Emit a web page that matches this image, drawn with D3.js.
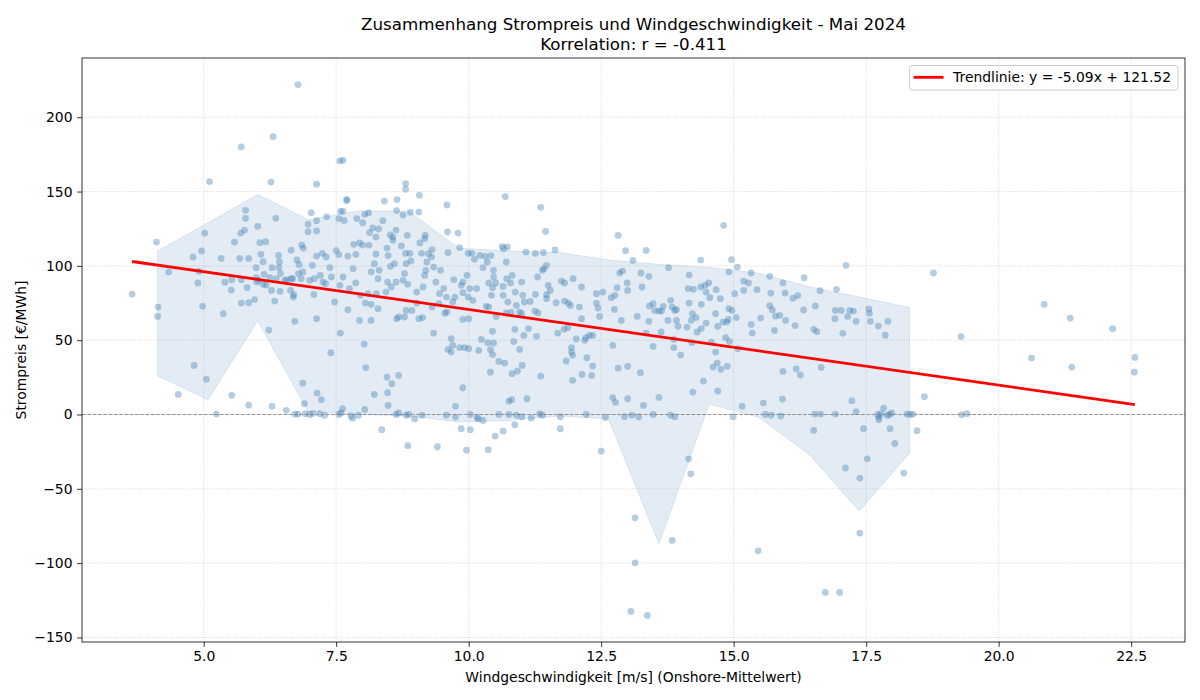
<!DOCTYPE html>
<html>
<head>
<meta charset="utf-8">
<script src="https://cdn.jsdelivr.net/npm/d3@7"></script>
<style>
  body { margin: 0; background: #fff; }
  svg { display: block; font-family: 'DejaVu Sans', sans-serif; }
</style>
</head>
<body>
<svg id="chart" width="1200" height="700"></svg>
<script>
// hourly samples, May 2024: [onshore wind m/s, price EUR/MWh]
const hourly = [
  [6.78,222],[5.71,180],[6.31,187],[5.11,156.7],[6.27,156.4],[7.13,155],[5.79,137.4],[5.79,132],[6.36,132],[7.03,135.8],
  [6.97,128],[7.13,130.4],[7.32,133],[6.02,126.6],[5.77,124],[5.70,122],[5.02,122],[6.97,123],[7.13,123.5],[5.58,116],
  [6.06,115.6],[6.17,116.3],[6.85,114],[6.88,112],[6.65,110.5],[6.41,107],[6.08,107.8],[7.13,106.6],[7.24,108.4],[4.80,106],
  [4.96,110],[5.33,105],[5.68,105],[5.85,105],[6.76,104],[7.31,106],[4.11,116],
  [7.57,170.6],[7.63,171],[8.81,155.3],[8.81,151.5],[7.70,144.8],[7.70,143.8],[8.41,143.6],[8.65,144.6],[9.07,147.5],[9.59,141],
  [10.69,146.6],[11.36,139.4],[11.45,123.2],[7.58,136.7],[7.63,136.7],[7.55,131.8],[7.65,130.6],[7.89,131.8],[8.04,134.7],[8.11,135.6],
  [8.00,129],[8.38,130.4],[8.64,137.2],[8.76,134.2],[8.90,136],[9.06,136.2],[8.19,125.5],[8.30,124.8],[8.13,122.4],[8.25,119.4],
  [8.52,120.8],[8.57,119.4],[8.63,124.1],[8.84,120.5],[9.18,120.5],[9.17,118.3],[9.60,122.8],[9.80,122.1],[7.83,114.5],[7.94,115.4],
  [8.00,114],[8.12,114],[8.57,117.2],[8.73,113.4],[9.08,115.4],[9.31,111],[9.83,112.3],[7.50,110.3],[7.55,107.6],[7.72,106.6],
  [7.87,107.8],[8.25,108],[8.46,112],[8.48,106.9],[8.81,108.4],[8.89,108.4],[9.11,108.4],[9.24,108.2],[9.30,106],[9.61,108.9],
  [9.99,108.4],[10.06,108.4],[10.21,107],[10.31,106.4],[10.42,106.9],[10.63,113],[10.66,111.6],[10.73,112.7],[11.08,109.3],[11.26,108.4],
  [11.41,109],[11.63,110.7],[10.11,104.4],
  [14.81,127.3],[12.82,120.5],[12.96,110.2],[13.35,110.4],[13.10,103.7],[14.38,103.9],[14.96,104.2],
  [17.12,100.4],[18.77,95.2],[16.33,92],[16.12,78.3],[16.21,80],[16.63,83.3],[16.94,84.2],[16.32,70.3],[16.54,73],[16.92,70],
  [17.03,70],[17.19,70],[17.26,69.6],[17.55,71],[17.56,68.2],[16.91,64.5],[17.15,66],[17.31,62.7],[17.58,62.7],[17.91,62.7],
  [16.16,59.8],[16.51,57.3],[16.57,55.7],[17.06,54.6],[17.73,59.5],[17.86,53.4],[19.29,52.4],[20.86,74.1],[21.35,64.9],[22.15,57.7],
  [20.62,38],[21.38,31.9],[22.57,38.4],[22.56,28.5],[16.18,30.6],[16.26,26.5],[16.65,31.7],[18.60,12],[17.23,9.3],[17.31,2],
  [16.53,0.3],[16.64,0.3],[16.92,0.3],[17.72,0],[17.83,4.3],[17.78,0.5],[17.94,0],[17.98,1],[17.74,-1.7],[17.74,-3.5],
  [17.90,-0.6],[18.27,0.3],[18.33,0],[18.38,0.3],[19.30,-0.1],[19.40,0.5],[16.51,-10.7],[17.45,-9.6],[17.95,-9.6],[18.46,-10.9],
  [3.65,81],[4.14,72.3],[4.13,66],[4.34,95.8],[4.89,88.5],[4.91,96.3],[4.98,72.8],[4.82,33],[5.05,23.8],[4.52,13.5],
  [5.24,0.3],[5.53,12.9],[5.85,6.3],[6.29,5.5],[6.56,2.8],[6.72,0.3],[6.78,0.3],[5.37,67.8],[5.40,89],[5.53,90.7],
  [5.52,83.7],[5.71,90.7],[5.82,85.3],[5.71,75],[5.85,75.2],[5.96,77.3],[5.99,98.8],[6.00,89.1],[6.14,94.3],[6.25,92],
  [6.28,83.5],[6.34,76.3],[6.44,82.9],[6.64,83.5],[6.23,56.8],[6.72,62.7],[6.69,79],[6.70,80.6],[6.29,98.8],[6.42,98.8],
  [6.45,94.8],[6.65,91.4],[6.68,91.4],[6.43,102.6],[6.12,102.8],[5.99,92],[6.04,90.3],[6.12,87.6],[6.18,87.1],[6.37,91.4],
  [6.53,90.3],[6.57,90.7],[6.80,100.8],[6.79,94.8],
  [6.87,95.9],[6.84,91.4],[7.05,100.4],[7.00,90.3],[7.09,91.4],[7.08,80.8],[7.20,93.6],[7.25,89.1],[7.30,88],[7.38,98.8],
  [7.41,92.5],[7.47,75.7],[7.57,86.9],[7.63,92.5],[7.72,70.5],[7.82,98.1],[7.75,84.7],[7.87,88.5],[7.94,63.3],[8.16,63.3],
  [7.96,80.2],[8.05,75],[8.16,74.1],[8.22,101.5],[8.16,95.9],[8.29,71.2],[8.31,97],[8.29,91.4],[8.10,81.3],[8.26,81.3],
  [8.44,82.4],[8.47,89.1],[8.54,85.8],[8.52,99.7],[8.60,101.5],[8.63,89.1],[8.76,90.3],[8.79,94.8],[8.82,101.5],[8.85,87.6],
  [8.91,103.3],[8.64,64.5],[8.68,65.6],[8.79,65.6],[8.82,70],[8.93,70],[9.02,75],[9.06,64.5],[9.13,65.2],[9.02,82.4],
  [9.14,85.8],[9.17,93.6],[9.21,102.6],[9.19,97],[9.34,99.2],[9.31,72.3],[9.38,89.1],[9.45,81.3],[9.44,74.6],[9.47,97],
  [9.53,84.7],[9.58,79],[9.59,68.9],[9.55,68.2],[7.13,64.5],[7.58,54.8],[7.40,41.6],[8.03,47.4],[8.06,31.5],[8.46,25.2],
  [8.55,20.7],[8.68,26.3],[8.47,14.7],[8.22,13.5],[8.48,6.1],[7.14,14.4],[7.22,10],[6.87,21.1],[6.90,7.3],[7.62,3.9],
  [8.04,3.4],[7.00,0],[7.19,0.5],[7.28,-0.5],[7.55,0],[7.59,1],[7.78,-1],[7.81,-2.5],[7.92,-0.5],[8.63,0],
  [8.68,1],[8.82,-0.5],[8.87,0],[8.98,-3],[9.12,-0.5],[9.58,-0.5],[8.36,-10.2],[9.34,54.8],[9.61,43.8],[6.92,0.5],
  [7.06,0.8],
  [10.35,102.6],[10.71,102.6],[10.27,98.8],[9.97,93.6],[9.72,90.7],[9.89,89.1],[9.86,86.9],[10.02,84.7],[10.15,84.7],[9.89,82],
  [9.74,79],[9.99,79],[10.08,76.8],[9.70,75.7],[9.89,64],[10.00,64.5],[10.47,97],[10.47,92.5],[10.38,88.5],[10.51,88.5],
  [10.45,85.3],[10.43,80.2],[10.65,80.2],[10.65,86.2],[10.72,91.4],[10.82,93.6],[10.79,88.5],[10.88,82.4],[11.00,89.1],[11.02,80.2],
  [10.74,75.7],[10.90,73.4],[11.05,75.7],[11.16,76.1],[11.26,80.8],[11.30,92.5],[11.39,97],[11.42,98.1],[11.47,100.4],[11.50,86.9],
  [11.54,83.5],[11.47,80.6],[11.47,77.9],[11.65,75.2],[11.75,89.8],[11.81,88.5],[11.81,76.3],[11.88,75],[11.92,73.4],[11.97,91.4],
  [12.13,85.8],[12.09,72.3],[12.41,81.3],[12.41,75],[12.44,71.6],[12.13,64.5],[10.33,72.8],[10.38,72.3],[10.52,66],[10.71,68.3],
  [10.80,68.9],[10.96,68.9],[11.00,67.8],[11.25,69.6],[11.31,68.3],[10.45,56],[10.87,57.3],[11.13,57.8],[11.04,53.2],[11.28,52.6],
  [11.68,54.8],[11.80,57.3],[11.87,58.4],[12.03,50.8],[12.19,49.9],[12.21,51.7],[12.28,53.2],[12.34,53.2],[9.67,51],[9.70,46.5],
  [9.67,42],[9.83,45],[9.92,45],[10.00,44.3],[10.19,43.1],[10.24,50.5],[10.36,48.3],[10.41,43.6],[10.45,40.3],[10.47,48.1],
  [10.57,35.7],[10.68,34.6],[10.85,49.2],[10.96,43.8],[11.01,33],[10.82,27.5],[10.92,29.2],[10.41,28.5],[11.36,25.8],[11.94,45],
  [11.94,42],[11.96,39.8],[11.84,36],[11.96,23],[12.14,27],[12.23,38.2],[12.32,26.3],[12.34,32.6],[9.89,18],[9.75,5.5],
  [10.76,9],[10.81,10],[11.10,10.6],[10.03,0],[10.16,-2],[10.18,-3],[10.27,-4],[10.57,0],[10.76,0],[10.90,-0.5],
  [11.00,-1.5],[11.34,0.5],[11.39,-0.5],[11.73,-1.5],[12.22,0],[9.75,-1.7],[9.86,-9.6],[10.03,-10.2],[10.50,-14.5],[10.65,-11.2],
  [10.87,-6.9],[11.18,-2.4],[11.73,-9.6],
  [12.85,95.2],[12.90,96.5],[13.25,95.2],[13.40,93],[13.77,98.8],[14.16,93.8],[15.07,99.2],[14.91,95.9],[12.53,82.4],[12.80,85.3],
  [12.99,88.5],[13.00,83.5],[13.27,85.8],[12.69,78.6],[12.76,80.2],[12.75,70.7],[12.88,63.3],[12.47,66],[13.18,66],[13.40,62.7],
  [13.41,73],[13.48,74.6],[13.51,70],[13.59,69.6],[13.64,69.6],[13.67,72.8],[13.81,76.8],[13.84,72.3],[13.89,70],[13.92,70.7],
  [13.76,63.3],[13.92,63.3],[13.95,59.3],[14.14,84.7],[14.24,84.2],[14.16,75],[14.22,67.8],[14.20,63.3],[14.29,65.2],[14.38,85.8],
  [14.46,86.9],[14.48,82.4],[14.53,88.5],[14.55,78.6],[14.39,74.1],[14.48,61.5],[14.31,55.5],[14.39,57.8],[14.12,58.8],[14.67,84],
  [14.75,77.9],[14.66,67.8],[14.70,59.3],[14.80,62.2],[14.87,62.2],[14.91,71.2],[14.97,70],[14.90,64],[15.02,81.3],[15.05,65.2],
  [14.85,51.7],[14.92,49.2],[15.08,44.3],[15.19,89.8],[15.19,83.5],[15.28,88.5],[15.33,95.2],[15.44,84],[15.33,60.6],[15.35,54.8],
  [15.51,64.9],[15.68,93],[15.70,81.7],[15.68,73.2],[15.73,70.5],[15.79,66.2],[15.87,66.7],[15.77,56.6],[15.93,88.5],[15.97,81.7],
  [15.98,63.3],[15.93,29],[12.72,46.5],[12.82,31.2],[13.00,32.4],[13.24,28.1],[13.48,45.8],[13.63,55.5],[13.87,50.5],[13.87,45],
  [14.00,40],[13.35,54.8],[14.21,48.3],[14.61,31.9],[14.69,34.6],[14.76,30.4],[14.88,32.4],[14.58,48.7],[14.66,42],[14.43,22.5],
  [14.23,15.1],[14.70,15.8],[12.72,11.3],[12.77,8.1],[13.00,10.6],[13.30,6.1],[13.59,11.5],[15.16,5.5],[15.56,7.7],[15.92,10.4],
  [12.58,-2],[12.94,-1.5],[13.08,-0.5],[13.21,-1.5],[13.48,0],[13.81,-0.5],[13.89,-1.5],[14.99,-1.5],[15.60,0],[15.71,-0.5],
  [15.89,-1],
  [8.85,-21],[9.41,-21.7],[9.96,-24],[10.37,-23.7],
  [12.50,-24.6],[14.15,-29.8],[14.19,-39.9],[13.14,-69.5],[13.84,-84.7],[13.14,-99.8],[13.06,-132.5],[13.37,-135.2],[15.46,-91.7],[17.11,-36],
  [17.38,-42.8],[17.52,-29.8],[18.04,-19.5],[18.21,-39.4],[17.38,-79.8],[16.73,-119.7],[17.00,-119.7]
];

// binned spread band
const bandWind = [4.13, 5.08, 6.02, 6.97, 7.91, 8.86, 9.81, 10.75, 11.70, 12.64, 13.59, 14.54, 15.48, 16.43, 17.37, 18.32];
const bandHigh = [110, 129, 148, 131, 137, 137, 112, 110, 109, 104, 101, 99, 95, 86, 79, 72];
const bandLow  = [26, 10, 63, 2, 0, -1, -5, -4, -1, -3, -87, 7, -2, -27, -65, -26];

const trendSlope = -5.09;
const trendIntercept = 121.52;
const correlation = -0.411;

const xTicks = [5, 7.5, 10, 12.5, 15, 17.5, 20, 22.5];
const yTicks = [-150, -100, -50, 0, 50, 100, 150, 200];

const W = 1200, H = 700;
const margin = { top: 58, right: 15, bottom: 58, left: 82 };
const svg = d3.select('#chart');

// matplotlib-like 5% padding around data
const padded = ext => { const r = ext[1] - ext[0]; return [ext[0] - 0.05 * r, ext[1] + 0.05 * r]; };
const xExt = d3.extent(hourly, d => d[0]);
const x = d3.scaleLinear().domain(padded(xExt)).range([margin.left, W - margin.right]);
const y = d3.scaleLinear().domain(padded(d3.extent(hourly, d => d[1]))).range([H - margin.bottom, margin.top]);

svg.append('defs').append('clipPath').attr('id', 'plot')
  .append('rect')
  .attr('x', margin.left).attr('y', margin.top)
  .attr('width', W - margin.left - margin.right)
  .attr('height', H - margin.top - margin.bottom);

const plot = svg.append('g').attr('clip-path', 'url(#plot)');

// band
const band = bandWind.map((w, i) => ({ w, lo: bandLow[i], hi: bandHigh[i] }));
plot.append('path')
  .datum(band)
  .attr('d', d3.area().x(d => x(d.w)).y0(d => y(d.lo)).y1(d => y(d.hi)))
  .attr('fill', '#4682b4').attr('fill-opacity', 0.15)
  .attr('stroke', '#4682b4').attr('stroke-opacity', 0.15).attr('stroke-width', 1);

// points
plot.append('g')
  .selectAll('circle')
  .data(hourly)
  .join('circle')
  .attr('cx', d => x(d[0]))
  .attr('cy', d => y(d[1]))
  .attr('r', 3.4)
  .attr('fill', '#4682b4')
  .attr('fill-opacity', 0.4);

// grid
const grid = svg.append('g')
  .attr('stroke', '#b0b0b0').attr('stroke-opacity', 0.7)
  .attr('stroke-width', 0.8).attr('stroke-dasharray', '0.8,1.4');
grid.selectAll('.gx').data(xTicks).join('line')
  .attr('x1', d => x(d)).attr('x2', d => x(d))
  .attr('y1', margin.top).attr('y2', H - margin.bottom);
grid.selectAll('.gy').data(yTicks).join('line')
  .attr('x1', margin.left).attr('x2', W - margin.right)
  .attr('y1', d => y(d)).attr('y2', d => y(d));

// zero line
svg.append('line')
  .attr('x1', margin.left).attr('x2', W - margin.right)
  .attr('y1', y(0)).attr('y2', y(0))
  .attr('stroke', 'gray').attr('stroke-opacity', 0.8)
  .attr('stroke-width', 1).attr('stroke-dasharray', '3.7,1.6');

// trend line
const trendX = d3.extent(hourly, d => d[0]);
plot.append('path')
  .datum(trendX)
  .attr('d', d3.line().x(d => x(d)).y(d => y(trendSlope * d + trendIntercept)))
  .attr('stroke', 'red').attr('stroke-width', 2.8).attr('fill', 'none');

// axes
const minus = d => d < 0 ? '\u2212' + Math.abs(d) : String(d);
const xAxis = svg.append('g')
  .attr('transform', `translate(0,${H - margin.bottom})`)
  .call(d3.axisBottom(x).tickValues(xTicks).tickFormat(d3.format('.1f')).tickSize(4.9).tickPadding(4.6));
const yAxis = svg.append('g')
  .attr('transform', `translate(${margin.left},0)`)
  .call(d3.axisLeft(y).tickValues(yTicks).tickFormat(minus).tickSize(4.9).tickPadding(4.6));
[xAxis, yAxis].forEach(a => {
  a.select('.domain').remove();
  a.selectAll('line').attr('stroke', '#000').attr('stroke-width', 0.8);
  a.selectAll('text').attr('font-family', 'DejaVu Sans').attr('font-size', '13.9px').attr('fill', '#000');
});

svg.append('rect')
  .attr('x', margin.left).attr('y', margin.top)
  .attr('width', W - margin.left - margin.right)
  .attr('height', H - margin.top - margin.bottom)
  .attr('fill', 'none').attr('stroke', '#000').attr('stroke-width', 0.8);

// labels
const cx = (margin.left + W - margin.right) / 2;
svg.append('text').attr('x', cx).attr('y', 29.5).attr('text-anchor', 'middle')
  .attr('font-size', '16.7px').text('Zusammenhang Strompreis und Windgeschwindigkeit - Mai 2024');
svg.append('text').attr('x', cx).attr('y', 50).attr('text-anchor', 'middle')
  .attr('font-size', '16.7px').text(`Korrelation: r = ${correlation.toFixed(3)}`);
svg.append('text').attr('x', cx).attr('y', 682).attr('text-anchor', 'middle')
  .attr('font-size', '13.9px').text('Windgeschwindigkeit [m/s] (Onshore-Mittelwert)');
svg.append('text').attr('transform', `translate(25.5,${(margin.top + H - margin.bottom) / 2}) rotate(-90)`)
  .attr('text-anchor', 'middle').attr('font-size', '13.9px').text('Strompreis [€/MWh]');

// legend
const legend = svg.append('g');
const legendBox = legend.append('rect');
const legendText = legend.append('text')
  .attr('font-size', '13.9px')
  .text(`Trendlinie: y = ${trendSlope.toFixed(2)}x + ${trendIntercept.toFixed(2)}`);
const tw = legendText.node().getComputedTextLength();
const boxW = tw + 50.5, boxH = 24.5;
const boxX = W - margin.right - 7 - boxW, boxY = margin.top + 7.5;
legendBox.attr('x', boxX).attr('y', boxY).attr('width', boxW).attr('height', boxH)
  .attr('rx', 3).attr('fill', '#fff').attr('fill-opacity', 0.8)
  .attr('stroke', '#cccccc').attr('stroke-width', 1);
legend.append('line')
  .attr('x1', boxX + 4).attr('x2', boxX + 34)
  .attr('y1', boxY + 11.8).attr('y2', boxY + 11.8)
  .attr('stroke', 'red').attr('stroke-width', 2.8);
legendText.attr('x', boxX + 43.5).attr('y', boxY + 16.8);
</script>
</body>
</html>
